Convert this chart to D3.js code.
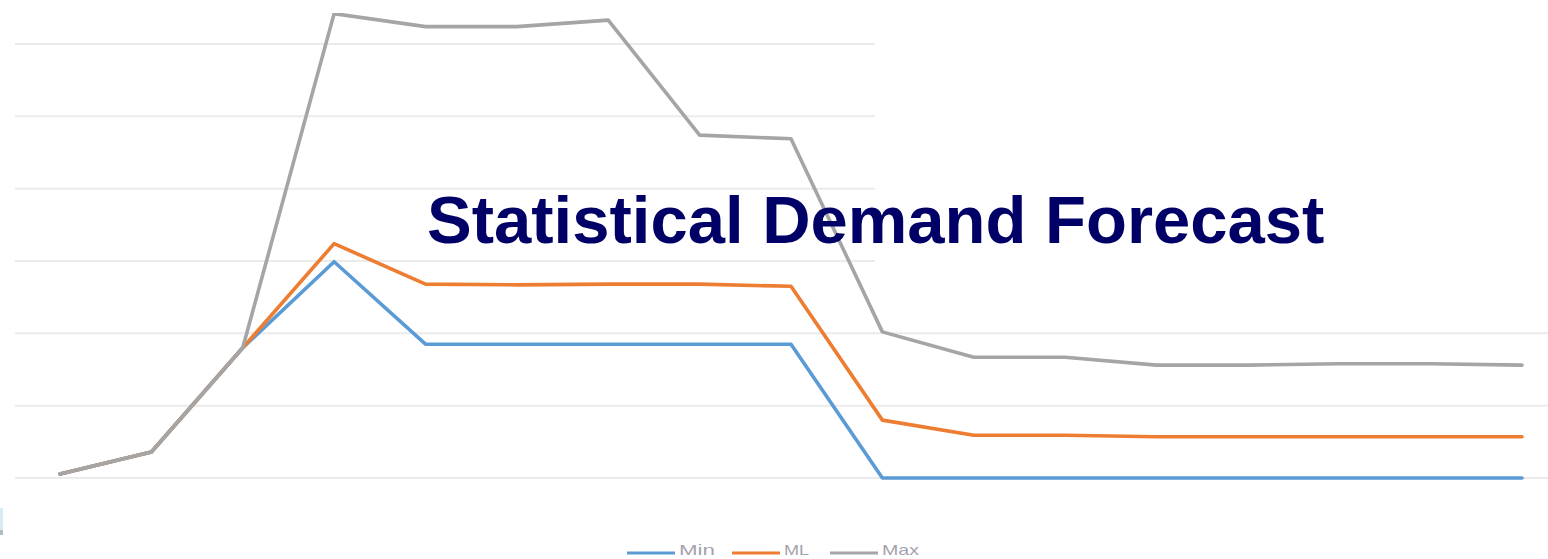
<!DOCTYPE html>
<html>
<head>
<meta charset="utf-8">
<script src="https://cdn.jsdelivr.net/npm/d3@7"></script>
<style>
  html, body { margin: 0; padding: 0; background: #ffffff; overflow: hidden; }
  svg { display: block; }
</style>
</head>
<body>
<svg id="chart" width="1548" height="559"></svg>
<script>
// ---- data (units: 100 per gridline) ----
const periods = d3.range(1, 18).map(String);
const minValues = [5.5, 36, 180, 299, 185, 185, 185, 185, 185, 0, 0, 0, 0, 0, 0, 0, 0];
const mlValues  = [5.5, 36, 180, 324, 268, 267, 268, 268, 265, 80, 59, 59, 57, 57, 57, 57, 57];
const maxValues = [5.5, 36, 180, 642, 624, 624, 633, 474, 469, 202, 167, 167, 156, 156, 158, 158, 156];
const gridTicks = [0, 100, 200, 300, 400, 500, 600];
const seriesNames = ["Min", "ML", "Max"];
const titleText = "Statistical Demand Forecast";

const colors = { Min: "#5b9bd5", ML: "#ed7d31", Max: "#a5a5a5" };

const svg = d3.select("#chart");

const x = d3.scalePoint().domain(periods).range([60, 1522]);
const y = d3.scaleLinear().domain([0, 600]).range([478, 44]);

// gridlines: upper ones are cut at x=875, lower ones span full width
const grid = svg.append("g");
grid.selectAll("line").data(gridTicks).join("line")
  .attr("x1", 15)
  .attr("x2", d => d >= 300 ? 875 : 1548)
  .attr("y1", d => y(d)).attr("y2", d => y(d))
  .attr("stroke", "#ebebeb").attr("stroke-width", 2);

// small artefact at left
svg.append("rect").attr("x", 0).attr("y", 508).attr("width", 3).attr("height", 22).attr("fill", "#d6ecf2");
svg.append("rect").attr("x", 0).attr("y", 530).attr("width", 3).attr("height", 5).attr("fill", "#b4bcc0");

const series = [
  { name: "Min", values: minValues },
  { name: "ML", values: mlValues },
  { name: "Max", values: maxValues }
];

const line = d3.line()
  .x((d, i) => x(periods[i]))
  .y(d => y(d));

svg.append("defs").append("clipPath").attr("id", "clip")
  .append("rect").attr("x", 0).attr("y", 13).attr("width", 1548).attr("height", 546);

svg.append("g").attr("clip-path", "url(#clip)")
  .selectAll("path").data(series).join("path")
  .attr("d", d => line(d.values))
  .attr("fill", "none")
  .attr("stroke", d => colors[d.name])
  .attr("stroke-width", 3.6)
  .attr("stroke-linejoin", "round")
  .attr("stroke-linecap", "round");

// title
svg.append("text")
  .attr("x", 427).attr("y", 243)
  .attr("font-family", "Liberation Sans, Arial, sans-serif")
  .attr("font-weight", "bold")
  .attr("font-size", 67)
  .attr("fill", "#000066")
  .text(titleText);

// legend
const legendX = [627, 732, 830];
const legendW = [36, 25, 37];
const lg = svg.append("g");
seriesNames.forEach((n, i) => {
  lg.append("line")
    .attr("x1", legendX[i]).attr("x2", legendX[i] + 48)
    .attr("y1", 553).attr("y2", 553)
    .attr("stroke", colors[n]).attr("stroke-width", 3);
  lg.append("text")
    .attr("x", legendX[i] + 52).attr("y", 555)
    .attr("font-family", "Liberation Sans, Arial, sans-serif")
    .attr("font-size", 15)
    .attr("textLength", legendW[i])
    .attr("lengthAdjust", "spacingAndGlyphs")
    .attr("fill", "#a4a2ae")
    .text(n);
});
</script>
</body>
</html>
